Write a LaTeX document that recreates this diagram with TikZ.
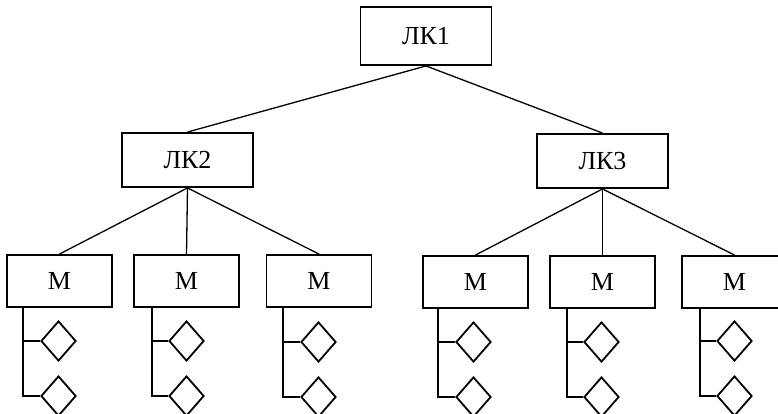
\documentclass[tikz,border=0pt]{standalone}
\usepackage{fontspec}
\setmainfont{Liberation Serif}
\usetikzlibrary{shapes.geometric}
\begin{document}
\begin{tikzpicture}[x=1pt,y=-1pt,
  box/.style={draw,line width=1.9pt,inner sep=0pt,font=\fontsize{26}{30}\selectfont},
  lk/.style={box,minimum width=131pt,minimum height=54pt},
  mbox/.style={box,minimum width=105pt,minimum height=52pt},
  dia/.style={draw,diamond,line width=1.8pt,inner sep=0pt,minimum width=35pt,minimum height=40pt},
  conn/.style={line width=1.3pt}]
\useasboundingbox (0,0) rectangle (778,414);
\clip (0,0) rectangle (778,414);
\node[lk,minimum width=131pt,minimum height=58pt] (k1) at (426,36) {ЛК1};
\node[lk] (k2) at (187.5,160) {ЛК2};
\node[lk] (k3) at (602.5,161) {ЛК3};
\node[mbox] (m1) at (59.5,281) {М};
\node[mbox] (m2) at (186.5,281) {М};
\node[mbox] (m3) at (319,281) {М};
\node[mbox] (m4) at (475.5,282) {М};
\node[mbox] (m5) at (602.5,282) {М};
\node[mbox] (m6) at (734.5,282) {М};
\draw[conn] (k1.south) -- (k2.north);
\draw[conn] (k1.south) -- (k3.north);
\foreach \m in {m1,m2,m3} \draw[conn] (k2.south) -- (\m.north);
\foreach \m in {m4,m5,m6} \draw[conn] (k3.south) -- (\m.north);
\foreach \m/\vx/\dx/\ya/\yb in {m1/23/58.5/341/396, m2/152/186.5/341/396, m3/283/318.5/342/397,
  m4/438/473.5/342/397, m5/567/601.5/342/397, m6/700/734.5/341/396}{
  \node[dia] (\m a) at (\dx,\ya) {};
  \node[dia] (\m b) at (\dx,\yb) {};
  \coordinate (\m t) at (\vx,0 |- \m.south);
  \draw[conn] (\m t) |- (\m b.west);
  \draw[conn] (\m t |- \m a.west) -- (\m a.west);
}
\end{tikzpicture}
\end{document}
